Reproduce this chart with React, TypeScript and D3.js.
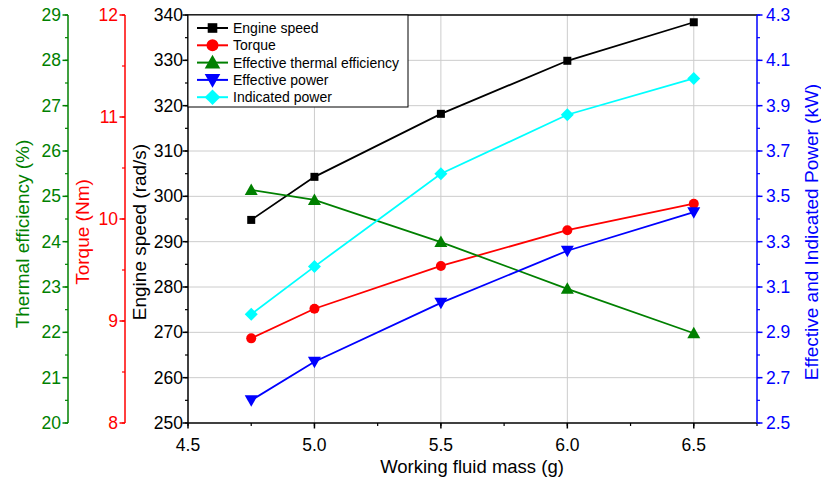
import React from "react";
import * as d3 from "d3";

const mass = [4.75, 5.0, 5.5, 6.0, 6.5];
const engineSpeed = [294.8, 304.3, 318.2, 329.9, 338.4];
const torque = [8.83, 9.12, 9.54, 9.89, 10.15];
const efficiency = [25.14, 24.92, 23.99, 22.96, 21.98];
const effPower = [2.6, 2.77, 3.03, 3.26, 3.43];
const indPower = [2.98, 3.19, 3.6, 3.86, 4.02];

const xTicks = [4.5, 5.0, 5.5, 6.0, 6.5];
const speedTicks = [250, 260, 270, 280, 290, 300, 310, 320, 330, 340];
const torqueTicks = [8, 9, 10, 11, 12];
const effTicks = [20, 21, 22, 23, 24, 25, 26, 27, 28, 29];
const powerTicks = [2.5, 2.7, 2.9, 3.1, 3.3, 3.5, 3.7, 3.9, 4.1, 4.3];

const legendNames = ["Engine speed", "Torque", "Effective thermal efficiency", "Effective power", "Indicated power"];

const W = 821, H = 484;
const L = 188, R = 757, T = 15, B = 423;
const GREEN = "#008000", RED = "#ff0000", BLUE = "#0000ff", CYAN = "#00ffff";
const FONT = "Liberation Sans, Arial, sans-serif";
const FS = 17.5;
const TFS = 19;

function Marker({ kind, x, y, color, s = 1 }: { kind: string; x: number; y: number; color: string; s?: number }) {
  if (kind === "square") return <rect x={x - 4 * s} y={y - 4 * s} width={8 * s} height={8 * s} fill={color} />;
  if (kind === "circle") return <circle cx={x} cy={y} r={5 * s} fill={color} />;
  if (kind === "up") return <path d={`M${x},${y - 6.5 * s}L${x + 6.5 * s},${y + 5 * s}L${x - 6.5 * s},${y + 5 * s}Z`} fill={color} />;
  if (kind === "down") return <path d={`M${x},${y + 6.5 * s}L${x + 6.5 * s},${y - 5 * s}L${x - 6.5 * s},${y - 5 * s}Z`} fill={color} />;
  return <path d={`M${x},${y - 6.5 * s}L${x + 6.5 * s},${y}L${x},${y + 6.5 * s}L${x - 6.5 * s},${y}Z`} fill={color} />;
}

export default function App() {
  const x = d3.scaleLinear().domain([4.5, 6.75]).range([L, R]);
  const ySpeed = d3.scaleLinear().domain([250, 340]).range([B, T]);
  const yTorque = d3.scaleLinear().domain([8, 12]).range([B, T]);
  const yEff = d3.scaleLinear().domain([20, 29]).range([B, T]);
  const yPower = d3.scaleLinear().domain([2.5, 4.3]).range([B, T]);

  const series = [
    { name: legendNames[0], vals: engineSpeed, y: ySpeed, color: "#000000", kind: "square" },
    { name: legendNames[1], vals: torque, y: yTorque, color: RED, kind: "circle" },
    { name: legendNames[2], vals: efficiency, y: yEff, color: GREEN, kind: "up" },
    { name: legendNames[3], vals: effPower, y: yPower, color: BLUE, kind: "down" },
    { name: legendNames[4], vals: indPower, y: yPower, color: CYAN, kind: "diamond" },
  ];

  const xMinor = d3.range(4.5, 6.76, 0.25);
  const speedMinor = d3.range(250, 341, 5);
  const torqueMinor = d3.range(8, 12.01, 0.5);
  const effMinor = d3.range(20, 29.01, 0.5);
  const powerMinor = d3.range(2.5, 4.31, 0.1);

  const leftAxis = (ax: number, scale: any, ticks: number[], minor: number[], color: string, fmt: (v: number) => string, labelX: number) => (
    <g>
      <line x1={ax} x2={ax} y1={T} y2={B} stroke={color} strokeWidth={1.5} />
      {minor.map((v, i) => <line key={"m" + i} x1={ax - 3} x2={ax} y1={scale(v)} y2={scale(v)} stroke={color} strokeWidth={1.2} />)}
      {ticks.map((v, i) => (
        <g key={i}>
          <line x1={ax - 5.5} x2={ax} y1={scale(v)} y2={scale(v)} stroke={color} strokeWidth={1.5} />
          <text x={labelX} y={scale(v)} dy="0.35em" textAnchor="end" fill={color} fontSize={FS} fontFamily={FONT}>{fmt(v)}</text>
        </g>
      ))}
    </g>
  );

  return (
    <svg width={W} height={H} style={{ position: "absolute", left: 0, top: 0 }}>
      <rect width={W} height={H} fill="#ffffff" />
      {/* grid */}
      {xTicks.slice(1).map((v, i) => <line key={"gx" + i} x1={x(v)} x2={x(v)} y1={T} y2={B} stroke="#cccccc" strokeWidth={1} />)}
      {speedTicks.slice(1, -1).map((v, i) => <line key={"gy" + i} x1={L} x2={R} y1={ySpeed(v)} y2={ySpeed(v)} stroke="#cccccc" strokeWidth={1} />)}

      {/* series */}
      {series.map((s, si) => {
        const line = d3.line<number>().x((_, i) => x(mass[i])).y((d) => s.y(d));
        return (
          <g key={si}>
            <path d={line(s.vals) || ""} fill="none" stroke={s.color} strokeWidth={1.8} />
            {s.vals.map((v, i) => <Marker key={i} kind={s.kind} x={x(mass[i])} y={s.y(v)} color={s.color} />)}
          </g>
        );
      })}

      {/* frame */}
      <line x1={L} x2={R} y1={T} y2={T} stroke="#000" strokeWidth={1.5} />
      <line x1={L} x2={R} y1={B} y2={B} stroke="#000" strokeWidth={1.5} />

      {/* x axis */}
      {xMinor.map((v, i) => <line key={"xm" + i} x1={x(v)} x2={x(v)} y1={B} y2={B + 3} stroke="#000" strokeWidth={1.2} />)}
      {xTicks.map((v, i) => (
        <g key={"xt" + i}>
          <line x1={x(v)} x2={x(v)} y1={B} y2={B + 5.5} stroke="#000" strokeWidth={1.5} />
          <text x={x(v)} y={451} textAnchor="middle" fontSize={FS} fontFamily={FONT} fill="#000">{v.toFixed(1)}</text>
        </g>
      ))}
      <text x={472} y={473} textAnchor="middle" fontSize={18.5} fontFamily={FONT} fill="#000">Working fluid mass (g)</text>

      {/* left axes */}
      {leftAxis(L, ySpeed, speedTicks, speedMinor, "#000", (v) => String(v), L - 5)}
      {leftAxis(125, yTorque, torqueTicks, torqueMinor, RED, (v) => String(v), 118)}
      {leftAxis(68, yEff, effTicks, effMinor, GREEN, (v) => String(v), 61)}

      {/* right axis */}
      <line x1={R} x2={R} y1={T} y2={B} stroke={BLUE} strokeWidth={1.5} />
      {powerMinor.map((v, i) => <line key={"pm" + i} x1={R} x2={R + 3} y1={yPower(v)} y2={yPower(v)} stroke={BLUE} strokeWidth={1.2} />)}
      {powerTicks.map((v, i) => (
        <g key={"pt" + i}>
          <line x1={R} x2={R + 5.5} y1={yPower(v)} y2={yPower(v)} stroke={BLUE} strokeWidth={1.5} />
          <text x={766} y={yPower(v)} dy="0.35em" textAnchor="start" fill={BLUE} fontSize={FS} fontFamily={FONT}>{v.toFixed(1)}</text>
        </g>
      ))}

      {/* axis titles */}
      <text transform={`translate(${29},${234}) rotate(-90)`} textAnchor="middle" fill={GREEN} fontSize={TFS} fontFamily={FONT}>Thermal efficiency (%)</text>
      <text transform={`translate(${89},${232}) rotate(-90)`} textAnchor="middle" fill={RED} fontSize={TFS} fontFamily={FONT}>Torque (Nm)</text>
      <text transform={`translate(${146},${232}) rotate(-90)`} textAnchor="middle" fill="#000" fontSize={TFS} fontFamily={FONT}>Engine speed (rad/s)</text>
      <text transform={`translate(${818},${232}) rotate(-90)`} textAnchor="middle" fill={BLUE} fontSize={TFS} fontFamily={FONT}>Effective and Indicated Power (kW)</text>

      {/* legend */}
      <g>
        <rect x={L} y={T} width={220} height={92} fill="#fff" stroke="#000" strokeWidth={1} />
        {series.map((s, i) => {
          const cy = 28 + i * 17.3;
          return (
            <g key={"lg" + i}>
              <line x1={197} x2={228} y1={cy} y2={cy} stroke={s.color} strokeWidth={2} />
              <Marker kind={s.kind} x={212.5} y={cy} color={s.color} s={1.2} />
              <text x={233} y={cy} dy="0.35em" fontSize={14} fontFamily={FONT} fill="#000">{s.name}</text>
            </g>
          );
        })}
      </g>
    </svg>
  );
}
